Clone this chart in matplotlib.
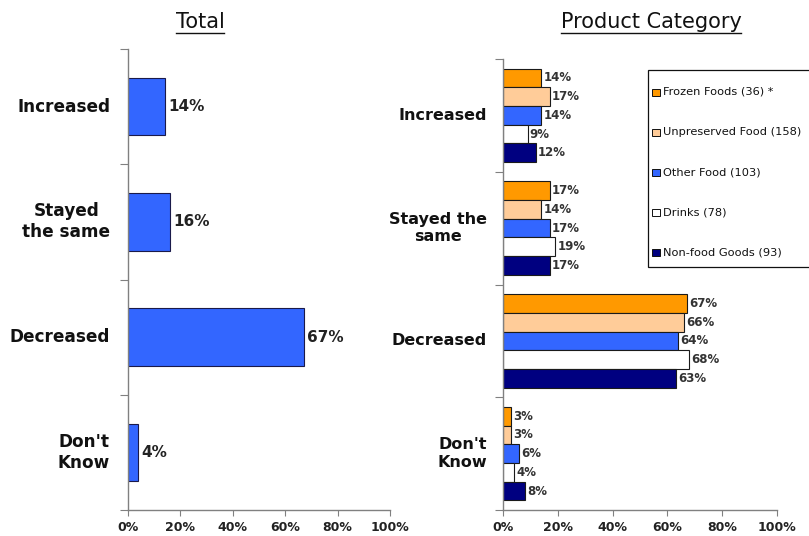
import matplotlib
matplotlib.use("Agg")
import matplotlib.pyplot as plt
import numpy as np
from matplotlib.lines import Line2D
from matplotlib.patches import Rectangle

plt.rcParams['font.family'] = ['DejaVu Sans']

# --- data -------------------------------------------------------------
categories = ["Increased", "Stayed\nthe same", "Decreased", "Don't\nKnow"]
categories_right = ["Increased", "Stayed the\nsame", "Decreased", "Don't\nKnow"]
total_values = [14, 16, 67, 4]

series_names = ["Frozen Foods (36) *", "Unpreserved Food (158)", "Other Food (103)",
                "Drinks (78)", "Non-food Goods (93)"]
frozen = [14, 17, 67, 3]
unpreserved = [17, 14, 66, 3]
other_food = [14, 17, 64, 6]
drinks = [9, 19, 68, 4]
non_food = [12, 17, 63, 8]
series_values = [frozen, unpreserved, other_food, drinks, non_food]
series_colors = ["#FF9900", "#FFCC99", "#3366FF", "#FFFFFF", "#000080"]

x_ticks = [0, 20, 40, 60, 80, 100]
x_ticklabels = ["0%", "20%", "40%", "60%", "80%", "100%"]

W, H = 809, 536
fig = plt.figure(figsize=(W / 100, H / 100), dpi=100)

def px_axes(x0, y0, x1, y1):
    return fig.add_axes([x0 / W, 1 - y1 / H, (x1 - x0) / W, (y1 - y0) / H])

def fx(px):
    return px / W

def fy(py):
    return 1 - py / H

def style_axis(ax):
    n = len(categories)
    ax.set_xlim(0, 100)
    ax.set_ylim(n - 0.5, -0.5)
    for s in ("top", "right"):
        ax.spines[s].set_visible(False)
    for s in ("left", "bottom"):
        ax.spines[s].set_color("#808080")
        ax.spines[s].set_linewidth(1.0)
    ax.set_xticks(x_ticks)
    ax.set_xticklabels(x_ticklabels, fontsize=9, fontweight="bold", color="#222222")
    ax.tick_params(axis="x", length=4, color="#808080", pad=4)
    # category boundary ticks on the value axis
    ax.set_yticks(np.arange(-0.5, n, 1.0))
    ax.set_yticklabels([])
    ax.tick_params(axis="y", length=6, color="#808080")

def underlined_title(text, xc, yc, size):
    t = fig.text(fx(xc), fy(yc), text, ha="center", va="center", fontsize=size,
                 color="#111111")
    fig.canvas.draw()
    bb = t.get_window_extent(renderer=fig.canvas.get_renderer())
    yline = bb.y0 - 1
    fig.add_artist(Line2D([bb.x0 / W, bb.x1 / W], [yline / H, yline / H],
                          color="#111111", lw=1.0, transform=fig.transFigure))

# --- left panel: total -------------------------------------------------
ax1 = px_axes(128, 49, 390, 510)
style_axis(ax1)
y = np.arange(len(categories))
ax1.barh(y, total_values, height=0.5, color="#3366FF", edgecolor="#1a1a4a", linewidth=0.8)
for yi, v in zip(y, total_values):
    ax1.text(v + 1.2, yi, f"{v}%", va="center", ha="left", fontsize=11,
             fontweight="bold", color="#222222")
for yi, lab in zip(y, categories):
    ax1.text(-6.8, yi, lab, va="center", ha="right", multialignment="center",
             fontsize=12.2, fontweight="bold", color="#111111", clip_on=False)

# --- right panel: product category ---------------------------------------
ax2 = px_axes(503, 59, 777, 510)
style_axis(ax2)
bar_h = 0.166
offsets = (np.arange(len(series_values)) - 2) * bar_h
for k, (vals, col, name) in enumerate(zip(series_values, series_colors, series_names)):
    ax2.barh(y + offsets[k], vals, height=bar_h, color=col, edgecolor="#1a1a1a",
             linewidth=0.8, label=name)
    for yi, v in zip(y, vals):
        ax2.text(v + 0.8, yi + offsets[k], f"{v}%", va="center", ha="left",
                 fontsize=8.5, fontweight="bold", color="#333333")
for yi, lab in zip(y, categories_right):
    ax2.text(-5.8, yi, lab, va="center", ha="right", multialignment="center",
             fontsize=11.5, fontweight="bold", color="#111111", clip_on=False)

# --- legend box (runs past the right edge of the figure) ----------------
box_x0, box_y0, box_y1 = 648, 70, 267
fig.add_artist(Rectangle((fx(box_x0), fy(box_y1)), fx(200), (box_y1 - box_y0) / H,
                         transform=fig.transFigure, facecolor="white",
                         edgecolor="#111111", linewidth=0.9))
for k, (name, col) in enumerate(zip(series_names, series_colors)):
    yc = 92 + 40.2 * k
    fig.add_artist(Rectangle((fx(652), fy(yc + 3.5)), 8 / W, 7 / H,
                             transform=fig.transFigure, facecolor=col,
                             edgecolor="#111111", linewidth=0.7))
    fig.text(fx(663), fy(yc), name, ha="left", va="center", fontsize=8.2,
             color="#111111")

underlined_title("Total", 200, 22, 15)
underlined_title("Product Category", 651, 22, 15)

fig.savefig("out.png", dpi=100)
